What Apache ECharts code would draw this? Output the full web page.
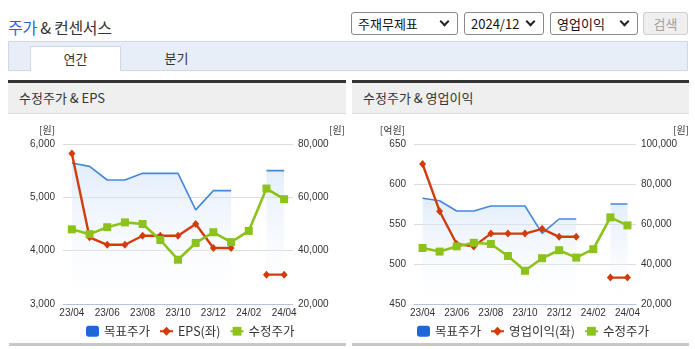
<!DOCTYPE html>
<html><head><meta charset="utf-8">
<script src="https://cdn.jsdelivr.net/npm/echarts@6/dist/echarts.min.js"></script>
<style>
html,body{margin:0;padding:0;background:#fff;width:695px;height:349px;overflow:hidden;font-family:"Noto Sans CJK KR","Noto Sans",sans-serif;color:#333;}
.abs{position:absolute;}
#title{left:8px;top:15px;font-size:16px;line-height:24px;color:#333;letter-spacing:-0.3px;}
#title b{font-weight:normal;color:#2b5fd6;}
.sel{position:absolute;top:12px;height:23px;border:1px solid #8a8a8a;border-radius:3px;box-sizing:border-box;font-size:13px;line-height:21px;padding-left:6px;color:#111;background:#fff;}
.sel::after{content:'';position:absolute;right:9px;top:5px;width:5px;height:5px;border-right:2px solid #222;border-bottom:2px solid #222;transform:rotate(45deg);}
#btn{position:absolute;left:643px;top:12px;width:45px;height:23px;box-sizing:border-box;border:1px solid #cfcfcf;border-radius:3px;background:#efefef;color:#a0a0a0;font-size:13px;line-height:21px;text-align:center;}
#tabbar{left:8px;top:41px;width:680px;height:30px;box-sizing:border-box;background:#e7eef8;border:1px solid #cfd8e6;}
#tab1{left:30px;top:46px;width:91px;height:25px;box-sizing:border-box;background:#fff;border:1px solid #cfd8e6;border-bottom:none;font-size:13px;line-height:23px;text-align:center;}
#tab2{left:131px;top:46px;width:91px;height:25px;font-size:13px;line-height:23px;text-align:center;}
.panel{position:absolute;top:80px;height:34px;box-sizing:border-box;border-top:3px solid #333;background:#efefef;border-bottom:1px solid #dcdcdc;font-size:13px;line-height:30px;padding-left:11px;color:#333;}
.bot{position:absolute;top:343px;height:3px;background:#c8c8c8;}
#chart{position:absolute;left:0;top:0;width:695px;height:349px;z-index:2;}
</style></head><body>
<div id="title" class="abs"><b>주가</b> &amp; 컨센서스</div>
<div class="sel" style="left:351px;width:107px;">주재무제표</div>
<div class="sel" style="left:464px;width:80px;">2024/12</div>
<div class="sel" style="left:550px;width:88px;">영업이익</div>
<div id="btn">검색</div>
<div id="tabbar" class="abs"></div>
<div id="tab1" class="abs">연간</div>
<div id="tab2" class="abs">분기</div>
<div class="panel" style="left:8px;width:338px;">수정주가 &amp; EPS</div>
<div class="panel" style="left:352px;width:337px;">수정주가 &amp; 영업이익</div>
<div class="bot" style="left:9px;width:337px;"></div>
<div class="bot" style="left:352px;width:337px;"></div>
<div id="chart"></div>
<script>
// ---- data ----
const categories = ['23/04','23/05','23/06','23/07','23/08','23/09','23/10','23/11','23/12','24/01','24/02','24/03','24/04'];
const targetPrice = [72900, 71600, 66500, 66500, 69000, 69000, 69000, 55300, 62500, 62500, null, 70000, 70000];
const adjustedPrice = [48000, 46200, 48800, 50600, 50000, 44000, 36600, 42900, 46900, 43200, 47400, 63300, 59300];
const eps = [5820, 4250, 4110, 4110, 4280, 4280, 4280, 4500, 4050, 4050, null, 3550, 3550];
const operatingProfit = [625, 566, 525, 522, 538, 538, 538, 544, 534, 534, null, 483, 483];
const leftTicksA = {min:3000, max:6000, interval:1000};
const rightTicksA = {min:20000, max:80000, interval:20000};
const leftTicksB = {min:450, max:650, interval:50};
const rightTicksB = {min:20000, max:100000, interval:20000};

const NUMFONT = "'Liberation Sans Narrow','Liberation Sans',sans-serif";
const KRFONT = "'Noto Sans CJK KR','Noto Sans',sans-serif";
const C_TARGET_LINE = '#4787da', C_TARGET = '#1f67d9', C_RED = '#d23c0c', C_GREEN = '#8cc21a';
const fmt = v => v.toLocaleString('en-US');

function xAxis(gi){
  return {gridIndex:gi, type:'category', data:categories, boundaryGap:true,
    axisLine:{lineStyle:{color:'#b5c6dc'}},
    axisTick:{length:4, interval:(i)=>i%2===1, lineStyle:{color:'#b5c6dc'}},
    axisLabel:{interval:1, color:'#333', fontSize:10, fontFamily:NUMFONT, margin:4}};
}
function yAxis(gi, pos, t, name, split, pad){
  return {gridIndex:gi, type:'value', position:pos, min:t.min, max:t.max, interval:t.interval,
    axisLine:{show:false}, axisTick:{show:false},
    axisLabel:{color:'#333', fontSize:10, fontFamily:NUMFONT, margin: pos==='left'?8:5, formatter:fmt},
    splitLine:{show:split, lineStyle:{color:'#dcdcdc'}},
    name:name, nameLocation:'end', nameGap:9,
    nameTextStyle:{color:'#333', fontSize:10, fontFamily:KRFONT, align: pos==='left'?'right':'left', padding:pad}};
}
const areaGrad = new echarts.graphic.LinearGradient(0,0,0,1,[
  {offset:0,color:'rgba(205,224,247,0.85)'},{offset:1,color:'rgba(255,255,255,0.2)'}]);
function targetSeries(xi, yi){
  return {name:'목표주가', type:'line', xAxisIndex:xi, yAxisIndex:yi, data:targetPrice,
    symbol:'none', connectNulls:false, lineStyle:{color:C_TARGET_LINE, width:1.6},
    itemStyle:{color:C_TARGET}, areaStyle:{color:areaGrad}, z:1};
}
function redSeries(name, xi, yi, data){
  return {name:name, type:'line', xAxisIndex:xi, yAxisIndex:yi, data:data,
    symbol:'diamond', symbolSize:[7,8], showAllSymbol:true, connectNulls:false,
    lineStyle:{color:C_RED, width:2.4}, itemStyle:{color:C_RED}, z:3};
}
function greenSeries(xi, yi){
  return {name:'수정주가', type:'line', xAxisIndex:xi, yAxisIndex:yi, data:adjustedPrice,
    symbol:'rect', symbolSize:8, showAllSymbol:true,
    lineStyle:{color:C_GREEN, width:2.6}, itemStyle:{color:C_GREEN}, z:4};
}
function legend(left, names){
  return {left:left, top:320, itemWidth:13, itemHeight:11, itemGap:9,
    textStyle:{color:'#333', fontSize:12.5, fontFamily:KRFONT},
    data:[{name:names[0], icon:'roundRect'}, names[1], names[2]]};
}
const chart = echarts.init(document.getElementById('chart'), null, {renderer:'canvas'});
chart.setOption({
  animation:false,
  grid:[{left:63, top:144, width:230, height:160}, {left:414, top:144, width:222, height:160}],
  xAxis:[xAxis(0), xAxis(1)],
  yAxis:[
    yAxis(0,'left',leftTicksA,'[원]',true,[0,8,0,0]),
    yAxis(0,'right',rightTicksA,'[원]',false,[0,0,0,36]),
    yAxis(1,'left',leftTicksB,'[억원]',true,[0,9,0,0]),
    yAxis(1,'right',rightTicksB,'[원]',false,[0,0,0,37])
  ],
  legend:[legend(81,['목표주가','EPS(좌)','수정주가']), legend(412,['목표주가','영업이익(좌)','수정주가'])],
  series:[
    targetSeries(0,1), redSeries('EPS(좌)',0,0,eps), greenSeries(0,1),
    targetSeries(1,3), redSeries('영업이익(좌)',1,2,operatingProfit), greenSeries(1,3)
  ]
});
</script>
</body></html>
